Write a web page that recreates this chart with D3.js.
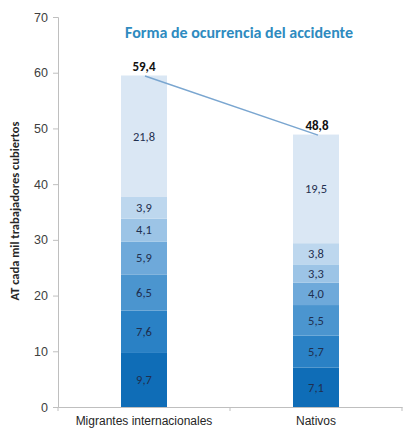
<!DOCTYPE html>
<html>
<head>
<meta charset="utf-8">
<script src="https://cdn.jsdelivr.net/npm/d3@7"></script>
<style>
  body { margin: 0; background: #fff; }
  svg { display: block; font-family: Calibri, Carlito, "Open Sans", sans-serif; }
</style>
</head>
<body>
<svg id="chart" width="403" height="431"></svg>
<script>
const categories = ["Migrantes internacionales", "Nativos"];
const segMigrantes = [9.7, 7.6, 6.5, 5.9, 4.1, 3.9, 21.8];
const segNativos = [7.1, 5.7, 5.5, 4.0, 3.3, 3.8, 19.5];
const totals = [59.4, 48.8];
const yTicks = [0, 10, 20, 30, 40, 50, 60, 70];
const segColors = ["#0f6db7", "#2a81c5", "#4b95cf", "#6ea9da", "#9cc4e6", "#bdd7ee", "#dae7f4"];

const W = 403, H = 431;
const m = { top: 17, right: 1, bottom: 24, left: 58 };
const iW = W - m.left - m.right;
const iH = H - m.top - m.bottom;

const svg = d3.select("#chart");
const g = svg.append("g").attr("transform", `translate(${m.left},${m.top})`);

const x = d3.scaleBand().domain(categories).range([0, iW]).paddingInner(0).paddingOuter(0);
const y = d3.scaleLinear().domain([0, 70]).range([iH, 0]);
const barW = 46;
const fmt = v => d3.format(".1f")(v).replace(".", ",");

// stacked segments
const series = [segMigrantes, segNativos];
series.forEach((vals, i) => {
  let acc = 0;
  const cx = x(categories[i]) + x.bandwidth() / 2;
  vals.forEach((v, j) => {
    const y0 = acc, y1 = acc + v;
    acc = y1;
    g.append("rect")
      .attr("x", cx - barW / 2).attr("width", barW)
      .attr("y", y(y1)).attr("height", y(y0) - y(y1))
      .attr("fill", segColors[j]);
    g.append("text")
      .attr("x", cx).attr("y", y((y0 + y1) / 2))
      .attr("dy", "0.35em").attr("text-anchor", "middle")
      .style("font-size", "12.5px").style("fill", "#1f2f4f")
      .text(fmt(v));
  });
});

// axes
const yAxis = g.append("g").call(d3.axisLeft(y).tickValues(yTicks).tickSize(5).tickPadding(5).tickFormat(d3.format("d")));
yAxis.select(".domain").attr("stroke", "#bfbfbf");
yAxis.selectAll(".tick line").attr("stroke", "#bfbfbf");
yAxis.selectAll("text").style("font-size", "12.5px").style("fill", "#404040").style("font-family", "inherit");

const xAxis = g.append("g").attr("transform", `translate(0,${iH})`)
  .call(d3.axisBottom(x).tickSize(0).tickPadding(9));
xAxis.select(".domain").attr("stroke", "#bfbfbf");
xAxis.selectAll("text").style("font-size", "12px").style("fill", "#262626").style("font-family", "inherit");
// category separators
g.append("g").selectAll("line").data([0, x.bandwidth(), iW]).join("line")
  .attr("x1", d => d).attr("x2", d => d)
  .attr("y1", iH).attr("y2", iH + 4)
  .attr("stroke", "#bfbfbf");

// total line & labels
const pts = totals.map((t, i) => [x(categories[i]) + x.bandwidth() / 2 + (i ? 2 : 1), y(t)]);
g.append("path")
  .attr("d", d3.line()(pts))
  .attr("stroke", "#7aa6d0").attr("stroke-width", 1.5).attr("fill", "none");
g.selectAll(".tot").data(totals).join("text")
  .attr("x", (d, i) => x(categories[i]) + x.bandwidth() / 2 + (i ? 1 : 0))
  .attr("y", d => y(d) - 5)
  .attr("text-anchor", "middle")
  .style("font-size", "13px").style("font-weight", "bold").style("fill", "#111")
  .text(d => fmt(d));

// title
svg.append("text")
  .attr("x", 239).attr("y", 38)
  .attr("text-anchor", "middle")
  .style("font-size", "16px").style("font-weight", "bold").style("fill", "#2e8bc0")
  .text("Forma de ocurrencia del accidente");

// y label
svg.append("text")
  .attr("transform", `translate(19,${211}) rotate(-90)`)
  .attr("text-anchor", "middle")
  .style("font-size", "12.5px").style("font-weight", "bold").style("fill", "#262626")
  .text("AT cada mil trabajadores cubiertos");
</script>
</body>
</html>
